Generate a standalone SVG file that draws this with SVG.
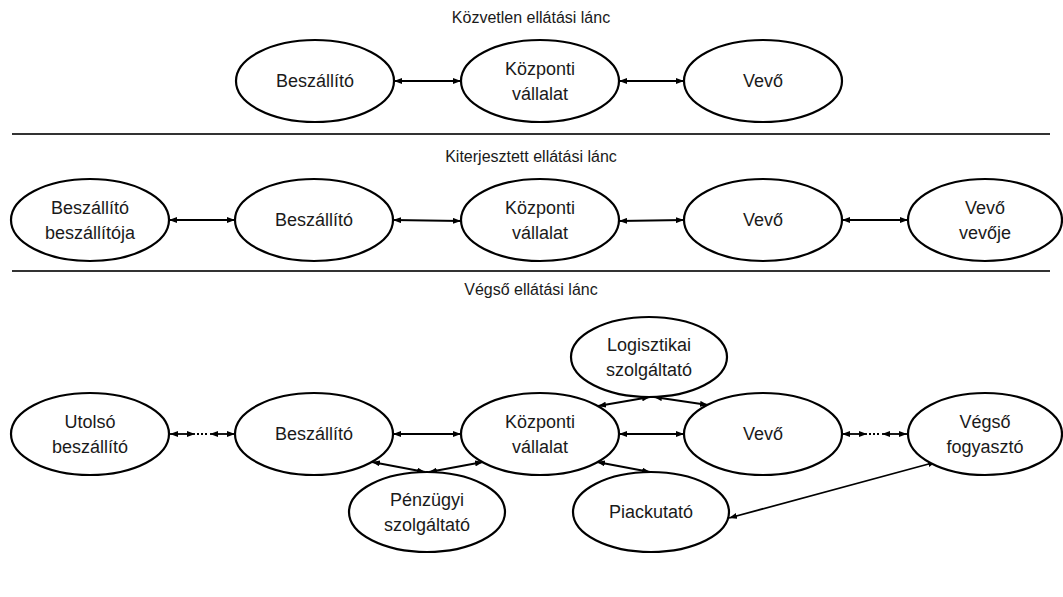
<svg xmlns="http://www.w3.org/2000/svg" width="1063" height="597" viewBox="0 0 1063 597">
  <style>
    .node ellipse { fill: #ffffff; stroke: #000000; stroke-width: 2.2; }
    .node text, .title { font-family: "Liberation Sans", Arial, sans-serif; fill: #1a1a1a; text-anchor: middle; }
    .node text { font-size: 18px; }
    .title { font-size: 16px; }
    .sep { stroke: #333333; stroke-width: 2; }
    .link { stroke: #000000; stroke-width: 1.8; fill: none; marker-start: url(#head); marker-end: url(#head); }
    .dots { stroke: #000000; stroke-width: 1.8; fill: none; stroke-dasharray: 2 2; }
  </style>
  <defs>
    <marker id="head" viewBox="0 0 8 6" refX="8" refY="3" markerUnits="userSpaceOnUse" markerWidth="8" markerHeight="6" orient="auto-start-reverse">
      <path d="M0,0 L8,3 L0,6 z" fill="#000000"/>
    </marker>
  </defs>

  <rect width="1063" height="597" fill="#ffffff"/>

  <!-- section titles and separators -->
  <text class="title" x="531" y="23">Közvetlen ellátási lánc</text>
  <line class="sep" x1="12" y1="134" x2="1050" y2="134"/>
  <text class="title" x="531" y="162">Kiterjesztett ellátási lánc</text>
  <line class="sep" x1="12" y1="271" x2="1050" y2="271"/>
  <text class="title" x="531" y="295">Végső ellátási lánc</text>

  <!-- connectors -->
  <g id="connectors">
    <!-- direct chain -->
    <line class="link" x1="394" y1="81" x2="461" y2="81"/>
    <line class="link" x1="619" y1="81" x2="684" y2="81"/>
    <!-- extended chain -->
    <line class="link" x1="169" y1="220" x2="235" y2="220"/>
    <line class="link" x1="393" y1="220" x2="461" y2="221"/>
    <line class="link" x1="619" y1="221" x2="684" y2="220"/>
    <line class="link" x1="842" y1="220" x2="908" y2="220"/>
    <!-- ultimate chain -->
    <line class="link" x1="170" y1="434" x2="195" y2="434"/>
    <line class="dots" x1="197" y1="434" x2="209" y2="434"/>
    <line class="link" x1="210" y1="434" x2="235" y2="434"/>
    <line class="link" x1="393" y1="434" x2="461" y2="434"/>
    <line class="link" x1="619" y1="434" x2="684" y2="434"/>
    <line class="link" x1="842" y1="434" x2="867" y2="434"/>
    <line class="dots" x1="869" y1="434" x2="881" y2="434"/>
    <line class="link" x1="882" y1="434" x2="907" y2="434"/>
    <line class="link" x1="598" y1="406" x2="650" y2="397"/>
    <line class="link" x1="654" y1="397" x2="708" y2="405"/>
    <line class="link" x1="372" y1="462" x2="425" y2="472"/>
    <line class="link" x1="429" y1="472" x2="483" y2="462"/>
    <line class="link" x1="597" y1="462" x2="650" y2="472"/>
    <line class="link" x1="729" y1="518" x2="936" y2="462"/>
  </g>

  <!-- direct chain nodes -->
  <g id="d-supplier" class="node">
    <ellipse cx="315" cy="81" rx="79" ry="41"/>
    <text x="315" y="87">Beszállító</text>
  </g>
  <g id="d-focal" class="node">
    <ellipse cx="540" cy="81" rx="79" ry="41"/>
    <text x="540" y="75">Központi</text>
    <text x="540" y="100">vállalat</text>
  </g>
  <g id="d-customer" class="node">
    <ellipse cx="763" cy="81" rx="79" ry="41"/>
    <text x="763" y="87">Vevő</text>
  </g>

  <!-- extended chain nodes -->
  <g id="e-supplier-supplier" class="node">
    <ellipse cx="90" cy="220" rx="79" ry="41"/>
    <text x="90" y="214">Beszállító</text>
    <text x="90" y="239">beszállítója</text>
  </g>
  <g id="e-supplier" class="node">
    <ellipse cx="314" cy="220" rx="79" ry="41"/>
    <text x="314" y="226">Beszállító</text>
  </g>
  <g id="e-focal" class="node">
    <ellipse cx="540" cy="220" rx="79" ry="41"/>
    <text x="540" y="214">Központi</text>
    <text x="540" y="239">vállalat</text>
  </g>
  <g id="e-customer" class="node">
    <ellipse cx="763" cy="220" rx="79" ry="41"/>
    <text x="763" y="226">Vevő</text>
  </g>
  <g id="e-customer-customer" class="node">
    <ellipse cx="985" cy="220" rx="77" ry="41"/>
    <text x="985" y="214">Vevő</text>
    <text x="985" y="239">vevője</text>
  </g>

  <!-- ultimate chain nodes -->
  <g id="u-first-supplier" class="node">
    <ellipse cx="90" cy="434" rx="79" ry="41"/>
    <text x="90" y="428">Utolsó</text>
    <text x="90" y="453">beszállító</text>
  </g>
  <g id="u-supplier" class="node">
    <ellipse cx="314" cy="434" rx="79" ry="41"/>
    <text x="314" y="440">Beszállító</text>
  </g>
  <g id="u-focal" class="node">
    <ellipse cx="540" cy="434" rx="79" ry="41"/>
    <text x="540" y="428">Központi</text>
    <text x="540" y="453">vállalat</text>
  </g>
  <g id="u-customer" class="node">
    <ellipse cx="763" cy="434" rx="79" ry="41"/>
    <text x="763" y="440">Vevő</text>
  </g>
  <g id="u-consumer" class="node">
    <ellipse cx="985" cy="434" rx="77" ry="41"/>
    <text x="985" y="428">Végső</text>
    <text x="985" y="453">fogyasztó</text>
  </g>
  <g id="u-logistics" class="node">
    <ellipse cx="649" cy="357" rx="78" ry="40"/>
    <text x="649" y="351">Logisztikai</text>
    <text x="649" y="376">szolgáltató</text>
  </g>
  <g id="u-finance" class="node">
    <ellipse cx="427" cy="512" rx="78" ry="40"/>
    <text x="427" y="506">Pénzügyi</text>
    <text x="427" y="531">szolgáltató</text>
  </g>
  <g id="u-research" class="node">
    <ellipse cx="651" cy="512" rx="78" ry="40"/>
    <text x="651" y="518">Piackutató</text>
  </g>
</svg>
